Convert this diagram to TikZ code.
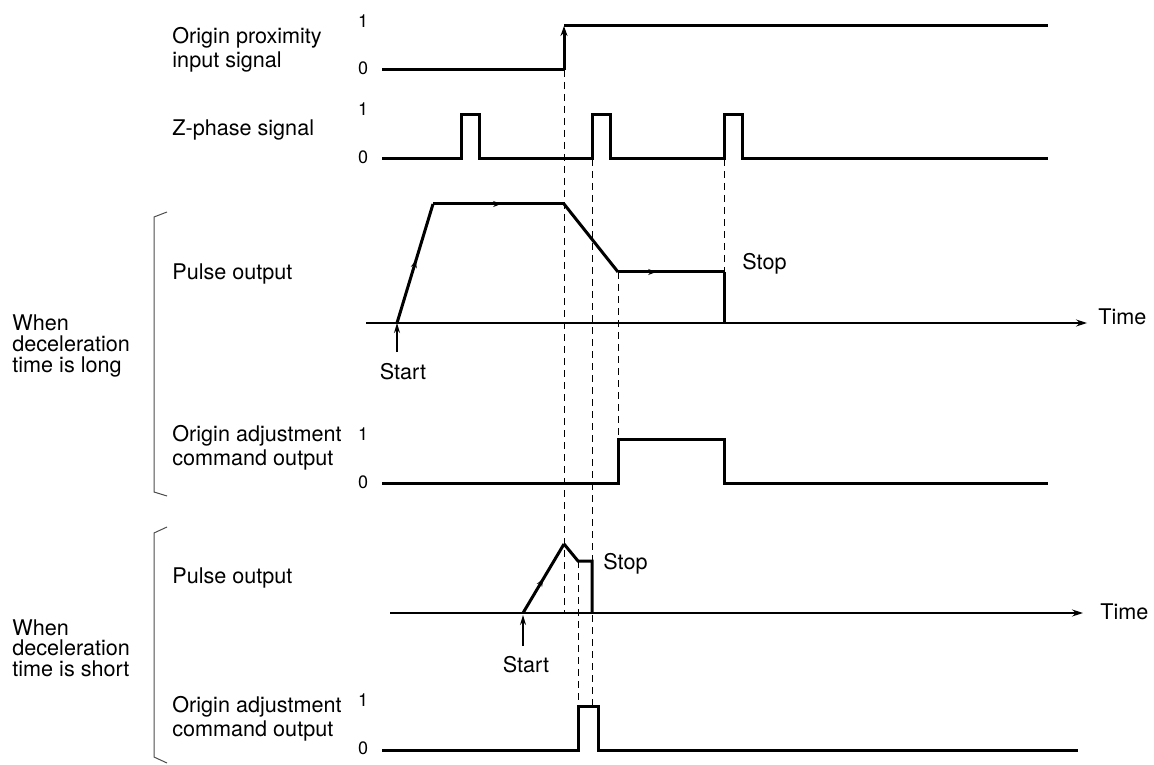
\documentclass[tikz,border=0pt]{standalone}
\usepackage{fontspec}
\setmainfont{TeX Gyre Heros}
\usetikzlibrary{arrows.meta, decorations.markings}
\tikzset{
  sig/.style={line width=1.5pt, line join=miter, black},
  axisline/.style={line width=0.6pt, -{Stealth[length=5.5pt, width=3.5pt]}},
  guide/.style={line width=0.5pt, dash pattern=on 3.5pt off 2.5pt},
  brk/.style={line width=0.5pt, black!70},
  lbl/.style={inner sep=0pt, anchor=west, align=left,
              font=\fontsize{10.8}{11.8}\selectfont},
  grp/.style={inner sep=0pt, anchor=west, align=left,
              font=\fontsize{10.8}{10.3}\selectfont},
  lvl/.style={inner sep=0pt, font=\fontsize{9}{10}\selectfont},
  midarr/.style={postaction={decorate}, decoration={markings,
              mark=at position #1 with {\arrow{Stealth[length=4pt, width=3pt]}}}},
  midarr/.default=0.5,
  uparr/.style={line width=0.6pt, -{Stealth[length=5pt, width=3pt]}},
}

\begin{document}
\begin{tikzpicture}[x=0.5pt, y=-0.5pt]
  \useasboundingbox (0,0) rectangle (1154,764);

  % row labels
  \node[lbl] (prox) at (172,50) {Origin proximity\\input signal};
  \node[lbl] (zph) at (172,130) {Z-phase signal};
  \node[lbl] (pulseL) at (172,274) {Pulse output};
  \node[lbl] (adjL) at (172,448) {Origin adjustment\\command output};
  \node[lbl] (pulseS) at (172,578) {Pulse output};
  \node[lbl] (adjS) at (172,719) {Origin adjustment\\command output};
  \node[grp] (grpL) at (12,346) {When\\deceleration\\time is long};
  \node[grp] (grpS) at (12,648) {When\\deceleration\\time is short};

  \node[lvl] (prox1) at (363,21) {1};
  \node[lvl] (prox0) at (363,68) {0};
  \node[lvl] (zph1) at (363,109) {1};
  \node[lvl] (zph0) at (363,157) {0};
  \node[lvl] (adjL1) at (363,434) {1};
  \node[lvl] (adjL0) at (363,482) {0};
  \node[lvl] (adjS1) at (363,700) {1};
  \node[lvl] (adjS0) at (363,748) {0};

  \draw[brk] (167,212) -- (154,217) -- (154,492) -- (167,496);
  \draw[brk] (167,527) -- (154,533) -- (154,757) -- (167,763);

  % guide lines
  \draw[guide] (564,70) -- (564,613);
  \draw[guide] (592,159) -- (592,706);
  \draw[guide] (724,159) -- (724,272);
  \draw[guide] (618,272) -- (618,439);
  \draw[guide] (578,561) -- (578,706);

  % origin proximity and Z-phase
  \draw[sig] (382,70) -- (564,70);
  \draw[sig, -{Stealth[length=5pt, width=3.5pt]}] (564,70) -- (564,26);
  \draw[sig] (564,26) -- (1048,26);
  \draw[sig] (382,159) -| (461,115) -| (479,159) -| (592,115) -| (610,159)
    -| (724,115) -| (742,159) -- (1048,159);

  % long deceleration
  \coordinate (st1) at (397,323);
  \coordinate (top1) at (433,204);
  \coordinate (dec1) at (564,204);
  \coordinate (low1) at (618,272);
  \coordinate (end1) at (724,272);
  \draw[axisline] (366,323) -- (1087,323);
  \node[lbl] (time1) at (1098,317) {Time};
  \draw[sig, midarr=0.53] (st1) -- (top1);
  \draw[sig, midarr=0.52] (top1) -- (dec1);
  \draw[sig] (dec1) -- (low1);
  \draw[sig, midarr=0.36] (low1) -- (end1);
  \draw[sig] (end1) -- (724,323);
  \node[lbl] (stop1) at (742,264) {Stop};
  \node[lbl, anchor=center] (start1) at (403,372) {Start};
  \draw[uparr] (397,352) -- (st1);
  \draw[sig] (382,483) -| (618,439) -| (724,483) -- (1048,483);

  % short deceleration
  \coordinate (st2) at (523,613);
  \coordinate (top2) at (564,544);
  \coordinate (low2) at (578,561);
  \coordinate (end2) at (592,561);
  \draw[axisline] (390,613) -- (1083,613);
  \node[lbl] (time2) at (1100,612) {Time};
  \draw[sig, midarr=0.5] (st2) -- (top2);
  \draw[sig] (top2) -- (low2) -- (end2) -- (592,613);
  \node[lbl] (stop2) at (603,564) {Stop};
  \node[lbl, anchor=center] (start2) at (526,665) {Start};
  \draw[uparr] (523,646) -- (523,615);
  \draw[sig] (382,750) -| (578,706) -| (598,750) -- (1078,750);
\end{tikzpicture}
\end{document}
